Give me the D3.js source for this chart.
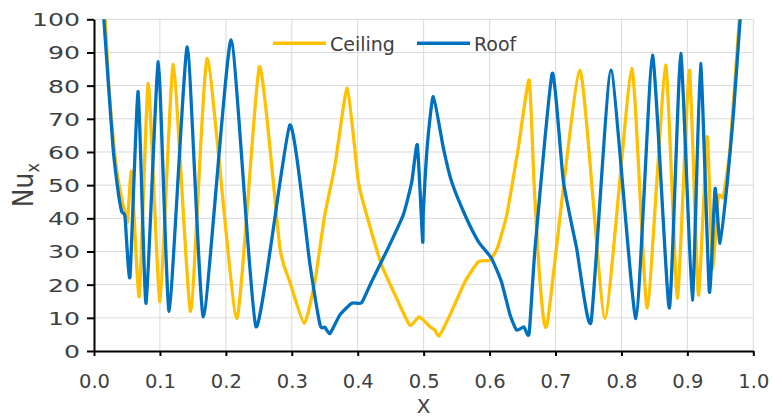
<!DOCTYPE html>
<html>
<head>
<meta charset="utf-8">
<script src="https://cdn.jsdelivr.net/npm/d3@7"></script>
<style>
  html, body { margin: 0; padding: 0; background: #fff; }
  svg { display: block; font-family: "DejaVu Sans", sans-serif; }
</style>
</head>
<body>
<div id="chart"></div>
<script>
// values
const ceilingX = [0.008, 0.017, 0.0225, 0.0334, 0.043, 0.0485, 0.051, 0.057, 0.0687, 0.0824,
  0.1001, 0.1203, 0.1466, 0.1719, 0.2164, 0.2508, 0.282, 0.297, 0.319, 0.335,
  0.350, 0.3655, 0.3842, 0.401, 0.4136, 0.4363, 0.459, 0.479, 0.4934, 0.5096,
  0.517, 0.5237, 0.540, 0.5627, 0.583, 0.6006, 0.6117, 0.626, 0.6435, 0.660,
  0.6674, 0.6765, 0.6876, 0.737, 0.775, 0.8156, 0.839, 0.867, 0.8848, 0.903,
  0.9166, 0.930, 0.938, 0.947, 0.9545, 0.9647, 0.9788, 0.988];
const ceilingNu = [125, 100, 80, 56, 45, 41, 39, 54, 16.4, 80.7,
  14.9, 86.4, 11.9, 88.2, 9.8, 85.7, 31, 20.9, 8.3, 20.9,
  41, 56, 79.2, 51, 41, 25.9, 15.9, 7.8, 10.3, 7.3,
  6.3, 4.6, 10.9, 20.9, 26.9, 27.4, 31, 41, 61.1, 81.7,
  51, 20.9, 8.3, 84.7, 9.8, 85.2, 12.9, 86.2, 15.9, 84.7,
  16.9, 64.6, 24.9, 46.5, 46.5, 61.1, 100, 125];

const roofX = [0.008, 0.015, 0.0217, 0.029, 0.036, 0.042, 0.047, 0.0546, 0.067, 0.079,
  0.0976, 0.114, 0.1415, 0.166, 0.208, 0.2457, 0.297, 0.3276, 0.343, 0.350,
  0.358, 0.373, 0.391, 0.406, 0.421, 0.446, 0.469, 0.482, 0.4905, 0.4985,
  0.4995, 0.506, 0.5147, 0.53, 0.5425, 0.5627, 0.583, 0.603, 0.618, 0.631,
  0.641, 0.652, 0.660, 0.669, 0.695, 0.712, 0.732, 0.754, 0.784, 0.822,
  0.847, 0.8726, 0.8899, 0.9075, 0.920, 0.9333, 0.942, 0.9495, 0.9606, 0.9697,
  0.980, 0.987];
const roofNu = [122, 100, 81, 61, 49, 42, 40.5, 22.4, 78.2, 14.4,
  87.2, 12, 91.7, 10.3, 93.8, 7.3, 68.1, 26, 7.8, 7.2,
  5.3, 10.9, 14.4, 14.6, 20.9, 31, 41, 51, 62.1, 33,
  42, 63, 76.7, 61.1, 51, 41, 33, 27.9, 20.9, 10.9,
  6.3, 7.3, 5.3, 31, 83.7, 51, 31, 8.8, 84.7, 9.8,
  89.2, 12.9, 89.7, 15.4, 86.7, 17.9, 49, 32.5, 51, 71.1,
  100, 122];

const seriesNames = ["Ceiling", "Roof"];
const xTicks = [0, 0.1, 0.2, 0.3, 0.4, 0.5, 0.6, 0.7, 0.8, 0.9, 1.0];
const yTicks = [0, 10, 20, 30, 40, 50, 60, 70, 80, 90, 100];

const W = 772, H = 418;
const plot = { left: 94, right: 753.3, top: 19.3, bottom: 351 };
const colors = { Ceiling: "#ffc000", Roof: "#0070c0" };
const textColor = "#404040";

const svg = d3.select("#chart").append("svg")
  .attr("width", W).attr("height", H)
  .attr("viewBox", `0 0 ${W} ${H}`);

const x = d3.scaleLinear().domain([0, 1]).range([plot.left, plot.right]);
const y = d3.scaleLinear().domain([0, 100]).range([plot.bottom, plot.top]);

// gridlines
const grid = svg.append("g").attr("stroke", "#d9d9d9").attr("stroke-width", 1);
grid.selectAll("line.h").data(yTicks.slice(1)).join("line")
  .attr("class", "h")
  .attr("x1", plot.left).attr("x2", plot.right)
  .attr("y1", (d) => y(d)).attr("y2", (d) => y(d));
grid.selectAll("line.v").data(xTicks.slice(1)).join("line")
  .attr("class", "v")
  .attr("y1", plot.top).attr("y2", plot.bottom)
  .attr("x1", (d) => x(d)).attr("x2", (d) => x(d));

// series
svg.append("clipPath").attr("id", "clip")
  .append("rect")
  .attr("x", plot.left - 4).attr("y", plot.top)
  .attr("width", plot.right - plot.left + 8).attr("height", plot.bottom - plot.top + 10);

const line = d3.line()
  .x((d) => x(d[0]))
  .y((d) => y(d[1]))
  .curve(d3.curveCardinal.tension(0.5));

const series = [
  { name: "Ceiling", pts: d3.zip(ceilingX, ceilingNu) },
  { name: "Roof", pts: d3.zip(roofX, roofNu) }
];

svg.append("g").attr("clip-path", "url(#clip)")
  .selectAll("path").data(series).join("path")
  .attr("d", (d) => line(d.pts))
  .attr("fill", "none")
  .attr("stroke", (d) => colors[d.name])
  .attr("stroke-width", 3.3)
  .attr("stroke-linejoin", "round");

// axes
const xAxis = svg.append("g")
  .attr("transform", `translate(0,${plot.bottom})`)
  .call(d3.axisBottom(x).tickValues(xTicks).tickFormat(d3.format(".1f")).tickSize(5).tickSizeOuter(0));
xAxis.select(".domain").attr("stroke", "#000").attr("stroke-width", 2);
xAxis.selectAll(".tick line").attr("stroke", "#000").attr("stroke-width", 2);
xAxis.selectAll(".tick text")
  .attr("y", 37).attr("dy", 0)
  .attr("fill", textColor)
  .style("font-size", "19.5px")
  .style("font-family", "'DejaVu Sans', sans-serif");

const yAxis = svg.append("g")
  .attr("transform", `translate(${plot.left},0)`)
  .call(d3.axisLeft(y).tickValues(yTicks).tickSize(7).tickSizeOuter(0));
yAxis.select(".domain").attr("stroke", "#000").attr("stroke-width", 2);
yAxis.selectAll(".tick line").attr("stroke", "#000").attr("stroke-width", 2);
// the reference draws these labels wider than normal
yAxis.selectAll(".tick text")
  .attr("transform", "scale(1.4,1)")
  .attr("x", -14 / 1.4).attr("dy", "0.36em")
  .attr("fill", textColor)
  .style("font-size", "18px")
  .style("font-family", "'DejaVu Sans', sans-serif");

// axis titles
svg.append("text")
  .attr("x", (plot.left + plot.right) / 2).attr("y", 413)
  .attr("text-anchor", "middle")
  .attr("fill", textColor)
  .style("font-size", "20px")
  .text("X");

const yTitle = svg.append("text")
  .attr("transform", `translate(33,${(plot.top + plot.bottom) / 2}) rotate(-90) scale(1,1.12)`)
  .attr("text-anchor", "middle")
  .attr("fill", textColor)
  .style("font-size", "25px");
yTitle.append("tspan").text("Nu");
yTitle.append("tspan").attr("dy", 5).style("font-size", "16px").text("x");

// legend
const legendItems = [
  { name: seriesNames[0], x1: 273, x2: 326, tx: 330 },
  { name: seriesNames[1], x1: 417, x2: 470, tx: 474 }
];
const legend = svg.append("g");
legend.selectAll("line").data(legendItems).join("line")
  .attr("x1", (d) => d.x1).attr("x2", (d) => d.x2)
  .attr("y1", 43.3).attr("y2", 43.3)
  .attr("stroke", (d) => colors[d.name])
  .attr("stroke-width", 3.5);
legend.selectAll("text").data(legendItems).join("text")
  .attr("x", (d) => d.tx).attr("y", 50.5)
  .attr("fill", textColor)
  .style("font-size", "19px")
  .text((d) => d.name);
</script>
</body>
</html>
